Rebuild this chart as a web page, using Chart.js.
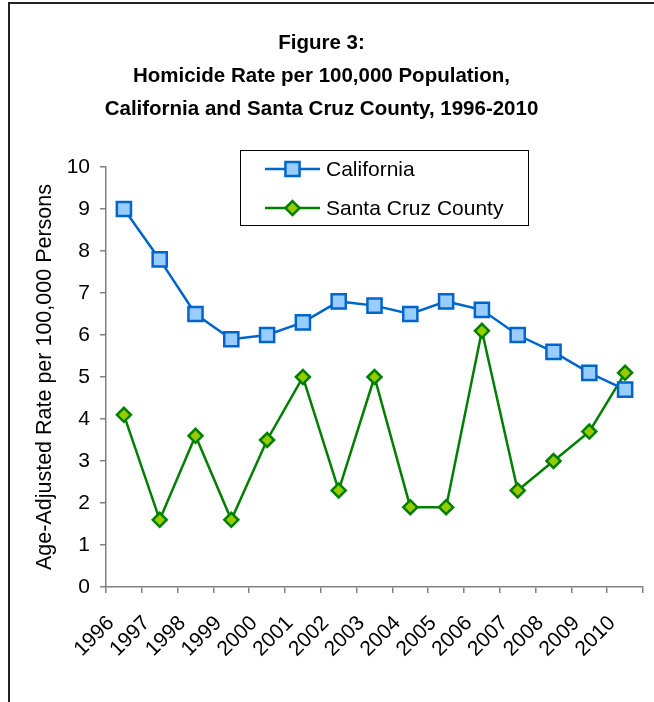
<!DOCTYPE html>
<html>
<head>
<meta charset="utf-8">
<script src="https://cdn.jsdelivr.net/npm/chart.js@4/dist/chart.umd.min.js"></script>
<style>
  html, body { margin: 0; padding: 0; background: #fff; overflow: hidden; }
  #frame { position: absolute; left: 8px; top: 2px; width: 700px; height: 760px;
           border-left: 2px solid #222; border-top: 2px solid #222; box-sizing: border-box; }
  #wrap { position: absolute; left: 0; top: 0; width: 646px; height: 702px; }
</style>
</head>
<body>
<div id="frame"></div>
<div id="wrap"><canvas id="c" width="646" height="702"></canvas></div>
<script>
// Homicide rate per 100,000 population, age-adjusted
const years = ['1996','1997','1998','1999','2000','2001','2002','2003','2004','2005','2006','2007','2008','2009','2010'];
const californiaRates = [9.0, 7.8, 6.5, 5.9, 6.0, 6.3, 6.8, 6.7, 6.5, 6.8, 6.6, 6.0, 5.6, 5.1, 4.7];
const santaCruzRates  = [4.1, 1.6, 3.6, 1.6, 3.5, 5.0, 2.3, 5.0, 1.9, 1.9, 6.1, 2.3, 3.0, 3.7, 5.1];
const titleLines = ['Figure 3:', 'Homicide Rate per 100,000 Population,', 'California and Santa Cruz County, 1996-2010'];
const yAxisTitle = 'Age-Adjusted Rate per 100,000 Persons';

const FONT = "'Liberation Sans', Arial, sans-serif";
const TEXT_SIZE = 21;
const AXIS_GRAY = '#808080';

// Boxed legend drawn inside the plot, near the top
const boxedLegend = {
  id: 'boxedLegend',
  afterDraw(chart) {
    const ctx = chart.ctx;
    const a = chart.chartArea;
    const left = a.left + 134, top = a.top - 17, w = 288, h = 75;
    ctx.save();
    ctx.fillStyle = '#fff';
    ctx.fillRect(left, top, w, h);
    ctx.strokeStyle = '#000';
    ctx.lineWidth = 1;
    ctx.strokeRect(left + 0.5, top + 0.5, w, h);
    chart.data.datasets.forEach((ds, i) => {
      const cy = top + 19 + i * 39;
      const x0 = left + 25, x1 = left + 80, cx = (x0 + x1) / 2;
      ctx.strokeStyle = ds.borderColor;
      ctx.lineWidth = ds.borderWidth;
      ctx.beginPath(); ctx.moveTo(x0, cy); ctx.lineTo(x1, cy); ctx.stroke();
      ctx.fillStyle = ds.pointBackgroundColor;
      ctx.strokeStyle = ds.pointBorderColor;
      ctx.lineWidth = ds.pointBorderWidth;
      ctx.beginPath();
      if (ds.pointStyle === 'rect') {
        const s = Math.SQRT1_2 * ds.pointRadius;
        ctx.rect(cx - s, cy - s, 2 * s, 2 * s);
      } else {
        const r = ds.pointRadius;
        ctx.moveTo(cx, cy - r); ctx.lineTo(cx + r, cy); ctx.lineTo(cx, cy + r); ctx.lineTo(cx - r, cy); ctx.closePath();
      }
      ctx.fill(); ctx.stroke();
      ctx.fillStyle = '#000';
      ctx.font = TEXT_SIZE + 'px ' + FONT;
      ctx.textBaseline = 'middle';
      ctx.textAlign = 'left';
      ctx.fillText(ds.label, x1 + 6, cy + 1);
    });
    ctx.restore();
  }
};

new Chart(document.getElementById('c'), {
  type: 'line',
  data: {
    labels: years,
    datasets: [
      {
        label: 'California',
        data: californiaRates,
        borderColor: '#0066CC',
        borderWidth: 2.5,
        pointStyle: 'rect',
        pointRadius: 10,
        pointHoverRadius: 10,
        pointBackgroundColor: '#99CCFF',
        pointBorderColor: '#0066CC',
        pointBorderWidth: 2.5,
        tension: 0
      },
      {
        label: 'Santa Cruz County',
        data: santaCruzRates,
        borderColor: '#008000',
        borderWidth: 2.5,
        pointStyle: 'rectRot',
        pointRadius: 7,
        pointHoverRadius: 7,
        pointBackgroundColor: '#99CC00',
        pointBorderColor: '#008000',
        pointBorderWidth: 2.5,
        tension: 0
      }
    ]
  },
  options: {
    responsive: false,
    animation: false,
    layout: { autoPadding: false, padding: { left: 0, right: 3, top: 0, bottom: 0 } },
    plugins: {
      legend: { display: false },
      tooltip: { enabled: false },
      title: {
        display: true,
        text: titleLines,
        color: '#000',
        font: { family: FONT, size: 20.5, weight: 'bold', lineHeight: 1.61 },
        padding: { top: 27, bottom: 41 }
      }
    },
    scales: {
      x: {
        type: 'category',
        offset: true,
        afterFit(scale) { scale.height = 115; scale.paddingRight = 0; scale.paddingLeft = 0; },
        grid: { offset: true, drawOnChartArea: false, drawTicks: true, tickLength: 6, color: AXIS_GRAY, tickColor: AXIS_GRAY, lineWidth: 1.5 },
        border: { display: true, color: AXIS_GRAY, width: 1.5 },
        ticks: {
          color: '#000',
          font: { family: FONT, size: TEXT_SIZE },
          maxRotation: 45, minRotation: 45,
          autoSkip: false,
          labelOffset: -13,
          padding: 18
        }
      },
      y: {
        min: 0, max: 10,
        afterFit(scale) { scale.width = 106; },
        grid: { drawOnChartArea: false, drawTicks: true, tickLength: 6, color: AXIS_GRAY, tickColor: AXIS_GRAY, lineWidth: 1.5 },
        border: { display: true, color: AXIS_GRAY, width: 1.5 },
        ticks: {
          stepSize: 1,
          color: '#000',
          font: { family: FONT, size: TEXT_SIZE },
          padding: 10
        },
        title: {
          display: true,
          text: yAxisTitle,
          color: '#000',
          font: { family: FONT, size: 21.5 },
          padding: { top: 32, bottom: 0 }
        }
      }
    }
  },
  plugins: [boxedLegend]
});
</script>
</body>
</html>
